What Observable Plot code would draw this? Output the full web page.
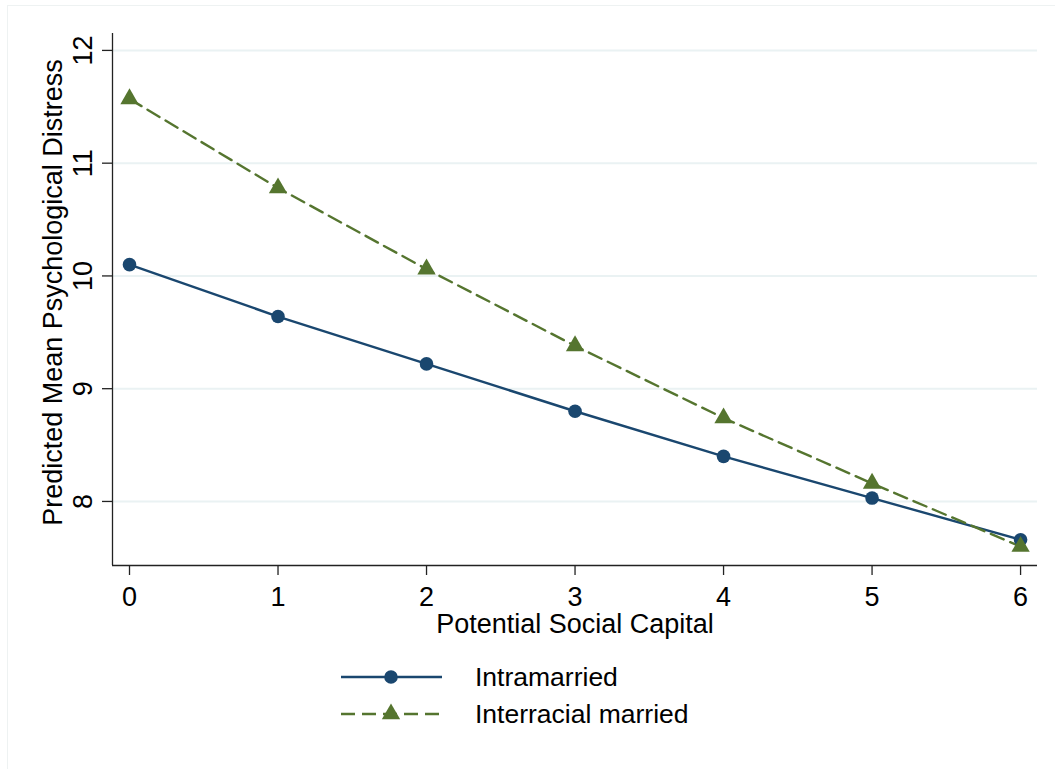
<!DOCTYPE html>
<html>
<head>
<meta charset="utf-8">
<script src="https://cdn.jsdelivr.net/npm/d3@7"></script>
<script src="https://cdn.jsdelivr.net/npm/@observablehq/plot@0.6"></script>
<style>
  html, body { margin: 0; padding: 0; background: #fff; }
  #wrap { position: relative; width: 1055px; height: 769px; overflow: hidden; font-family: "Liberation Sans", Arial, sans-serif; }
  #frame { position: absolute; left: 7px; top: 5px; width: 1060px; height: 780px; border-left: 1.5px solid #eef2f2; border-top: 1.5px solid #eef2f2; box-sizing: border-box; pointer-events: none; }
  #chart { position: absolute; left: 0; top: 0; }
  #legend { position: absolute; left: 0; top: 640px; }
</style>
</head>
<body>
<div id="wrap">
  <div id="frame"></div>
  <div id="chart"></div>
  <div id="legend"></div>
</div>
<script>
const xValues = [0, 1, 2, 3, 4, 5, 6];
const intramarried = [10.10, 9.64, 9.22, 8.80, 8.40, 8.03, 7.66];
const interracial = [11.57, 10.78, 10.06, 9.38, 8.74, 8.16, 7.60];
const seriesNames = ["Intramarried", "Interracial married"];
const xTicks = [0, 1, 2, 3, 4, 5, 6];
const yTicks = [8, 9, 10, 11, 12];
const xLabel = "Potential Social Capital";
const yLabel = "Predicted Mean Psychological Distress";

const blue = "#1a476f";
const green = "#55752f";

const dataA = xValues.map((x, i) => ({x, y: intramarried[i]}));
const dataB = xValues.map((x, i) => ({x, y: interracial[i]}));

const xDomain = [-0.1145, 6.114];
const yDomain = [7.432, 12.15];

const plot = Plot.plot({
  width: 1055,
  height: 640,
  marginLeft: 112,
  marginRight: 18,
  marginTop: 33,
  marginBottom: 75,
  style: {fontFamily: '"Liberation Sans", Arial, sans-serif', fontSize: "26px", color: "#000", background: "transparent"},
  x: {domain: xDomain, ticks: xTicks},
  y: {domain: yDomain, ticks: yTicks},
  marks: [
    Plot.gridY(yTicks, {stroke: "#eaf2f3", strokeOpacity: 1, strokeWidth: 2}),
    Plot.axisX(xTicks, {tickSize: 10, tickPadding: 11, fontSize: 27, tickFormat: d => String(d), stroke: "#222", strokeWidth: 1.3, label: null}),
    Plot.axisY(yTicks, {tickSize: 10, tickFormat: () => "", stroke: "#222", strokeWidth: 1.3, label: null}),
    Plot.text(yTicks, {y: d => d, text: d => String(d), frameAnchor: "left", textAnchor: "middle", dx: -29, rotate: -90, fontSize: 27, fill: "#000"}),
    Plot.text([yLabel], {text: d => d, frameAnchor: "left", textAnchor: "middle", dx: -59, dy: -7, rotate: -90, fontSize: 27, fill: "#000"}),
    Plot.text([xLabel], {text: d => d, frameAnchor: "bottom", textAnchor: "middle", dy: 67, fontSize: 27, fill: "#000"}),
    Plot.ruleX([xDomain[0]], {stroke: "#222", strokeWidth: 1.3}),
    Plot.ruleY([yDomain[0]], {stroke: "#222", strokeWidth: 1.3}),
    Plot.line(dataA, {x: "x", y: "y", stroke: blue, strokeWidth: 2.4}),
    Plot.line(dataB, {x: "x", y: "y", stroke: green, strokeWidth: 2.4, strokeDasharray: "14,7"}),
    Plot.dot(dataA, {x: "x", y: "y", r: 6.8, fill: blue, symbol: "circle"}),
    Plot.dot(dataB, {x: "x", y: "y", r: 6.8, fill: green, symbol: "triangle"})
  ]
});
document.getElementById("chart").appendChild(plot);

// Legend
const leg = d3.select("#legend").append("svg").attr("width", 1055).attr("height", 129)
  .style("font-family", '"Liberation Sans", Arial, sans-serif');
const rows = [
  {name: seriesNames[0], color: blue, dash: null, sym: d3.symbolCircle, size: Math.PI * 6.8 * 6.8},
  {name: seriesNames[1], color: green, dash: "14,7", sym: d3.symbolTriangle, size: Math.PI * 6.8 * 6.8}
];
rows.forEach((r, i) => {
  const cy = 37 + i * 37;
  leg.append("line").attr("x1", 341).attr("x2", 442).attr("y1", cy).attr("y2", cy)
    .attr("stroke", r.color).attr("stroke-width", 2.4).attr("stroke-dasharray", r.dash);
  leg.append("path").attr("d", d3.symbol(r.sym, r.size)()).attr("transform", `translate(391,${cy})`).attr("fill", r.color);
  leg.append("text").attr("x", 475).attr("y", cy).attr("dy", "0.35em").attr("font-size", 26.5).attr("fill", "#000").text(r.name);
});
</script>
</body>
</html>
